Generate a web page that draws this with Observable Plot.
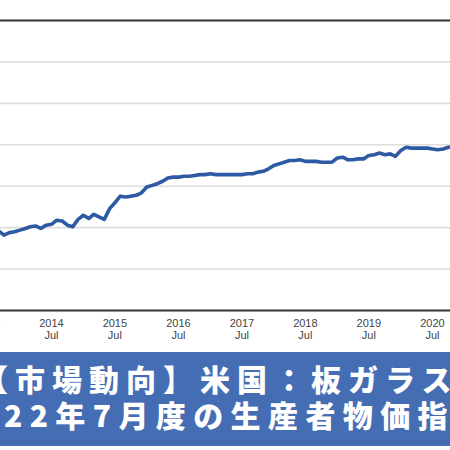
<!DOCTYPE html>
<html>
<head>
<meta charset="utf-8">
<script src="https://cdn.jsdelivr.net/npm/d3@7"></script>
<script src="https://cdn.jsdelivr.net/npm/@observablehq/plot@0.6"></script>
<style>
  html, body { margin: 0; padding: 0; background: #fff; overflow: hidden; width: 450px; height: 450px; }
  #chart { position: absolute; left: 0; top: 0; width: 450px; }
  #banner { position: absolute; left: 0; top: 352px; width: 450px; height: 94px; background: #456db3; overflow: hidden; }
  .bl { position: absolute; white-space: nowrap; color: #fff; font-family: "Noto Sans CJK JP", sans-serif; font-weight: 900; font-size: 30px; line-height: 30px; letter-spacing: 7px; }
</style>
</head>
<body>
<div id="chart"></div>
<div id="banner">
  <div class="bl" id="line1"></div>
  <div class="bl" id="line2"></div>
</div>
<script>
// Monthly index values, Sep 2013 .. Nov 2020
const startMonth = "2013-09-01";
const values = [
  94.6, 94.1, 94.4, 94.5, 94.7, 94.9, 95.1, 95.2, 94.9, 95.3,
  95.4, 95.9, 95.8, 95.3, 95.1, 96.0, 96.5, 96.1, 96.6, 96.3,
  96.0, 97.3, 98.0, 98.8, 98.7, 98.8, 98.9, 99.2, 99.9, 100.1,
  100.3, 100.6, 101.0, 101.1, 101.1, 101.2, 101.2, 101.3, 101.4, 101.4,
  101.5, 101.4, 101.4, 101.4, 101.4, 101.4, 101.4, 101.5, 101.5, 101.7,
  101.8, 102.1, 102.5, 102.7, 102.9, 103.1, 103.1, 103.2, 103.0, 103.0,
  103.0, 102.9, 102.9, 102.9, 103.4, 103.5, 103.2, 103.2, 103.3, 103.3,
  103.7, 103.8, 104.0, 103.8, 103.9, 103.6, 104.3, 104.7, 104.6, 104.6,
  104.6, 104.6, 104.5, 104.4, 104.5, 104.7, 104.8
];
const tickYears = [2013, 2014, 2015, 2016, 2017, 2018, 2019, 2020];
const tickMonthLabel = "Jul";
const gridValues = [90, 95, 100, 105, 110, 115];
const frameValues = [85, 120];
const titleLine1 = "【市場動向】米国：板ガラス";
const titleLine2 = "22年7月度の生産者物価指数";

const start = new Date(startMonth + "T00:00:00Z");
const data = values.map((v, i) => ({ date: d3.utcMonth.offset(start, i), value: v }));
const ticks = tickYears.map(y => new Date(Date.UTC(y, 6, 1)));

const chart = Plot.plot({
  width: 450,
  height: 352,
  marginLeft: 0,
  marginRight: 0,
  marginTop: 20,
  marginBottom: 42,
  style: { fontFamily: "'Liberation Sans', Arial, sans-serif", overflow: "visible" },
  x: { type: "utc", domain: [new Date(Date.UTC(2013, 8, 11)), new Date(Date.UTC(2020, 9, 13))] },
  y: { domain: [85, 120], axis: null },
  marks: [
    Plot.ruleY(gridValues, { stroke: "#dddddd", strokeWidth: 1.6 }),
    Plot.ruleY(frameValues, { stroke: "#333333", strokeWidth: 2 }),
    Plot.axisX(ticks, {
      tickSize: 0,
      tickPadding: 8,
      fontSize: 11,
      fill: "#444",
      lineHeight: 1.1,
      tickFormat: d => `${d.getUTCFullYear()}\n${tickMonthLabel}`
    }),
    Plot.line(data, { x: "date", y: "value", stroke: "#2d5aa3", strokeWidth: 3.6, clip: true })
  ]
});
document.getElementById("chart").append(chart);

const l1 = document.getElementById("line1");
l1.textContent = titleLine1;
l1.style.left = "-22px";
l1.style.top = "11px";
const l2 = document.getElementById("line2");
l2.textContent = titleLine2;
l2.style.left = "4px";
l2.style.top = "47px";
l2.style.letterSpacing = "7.4px";
</script>
</body>
</html>
